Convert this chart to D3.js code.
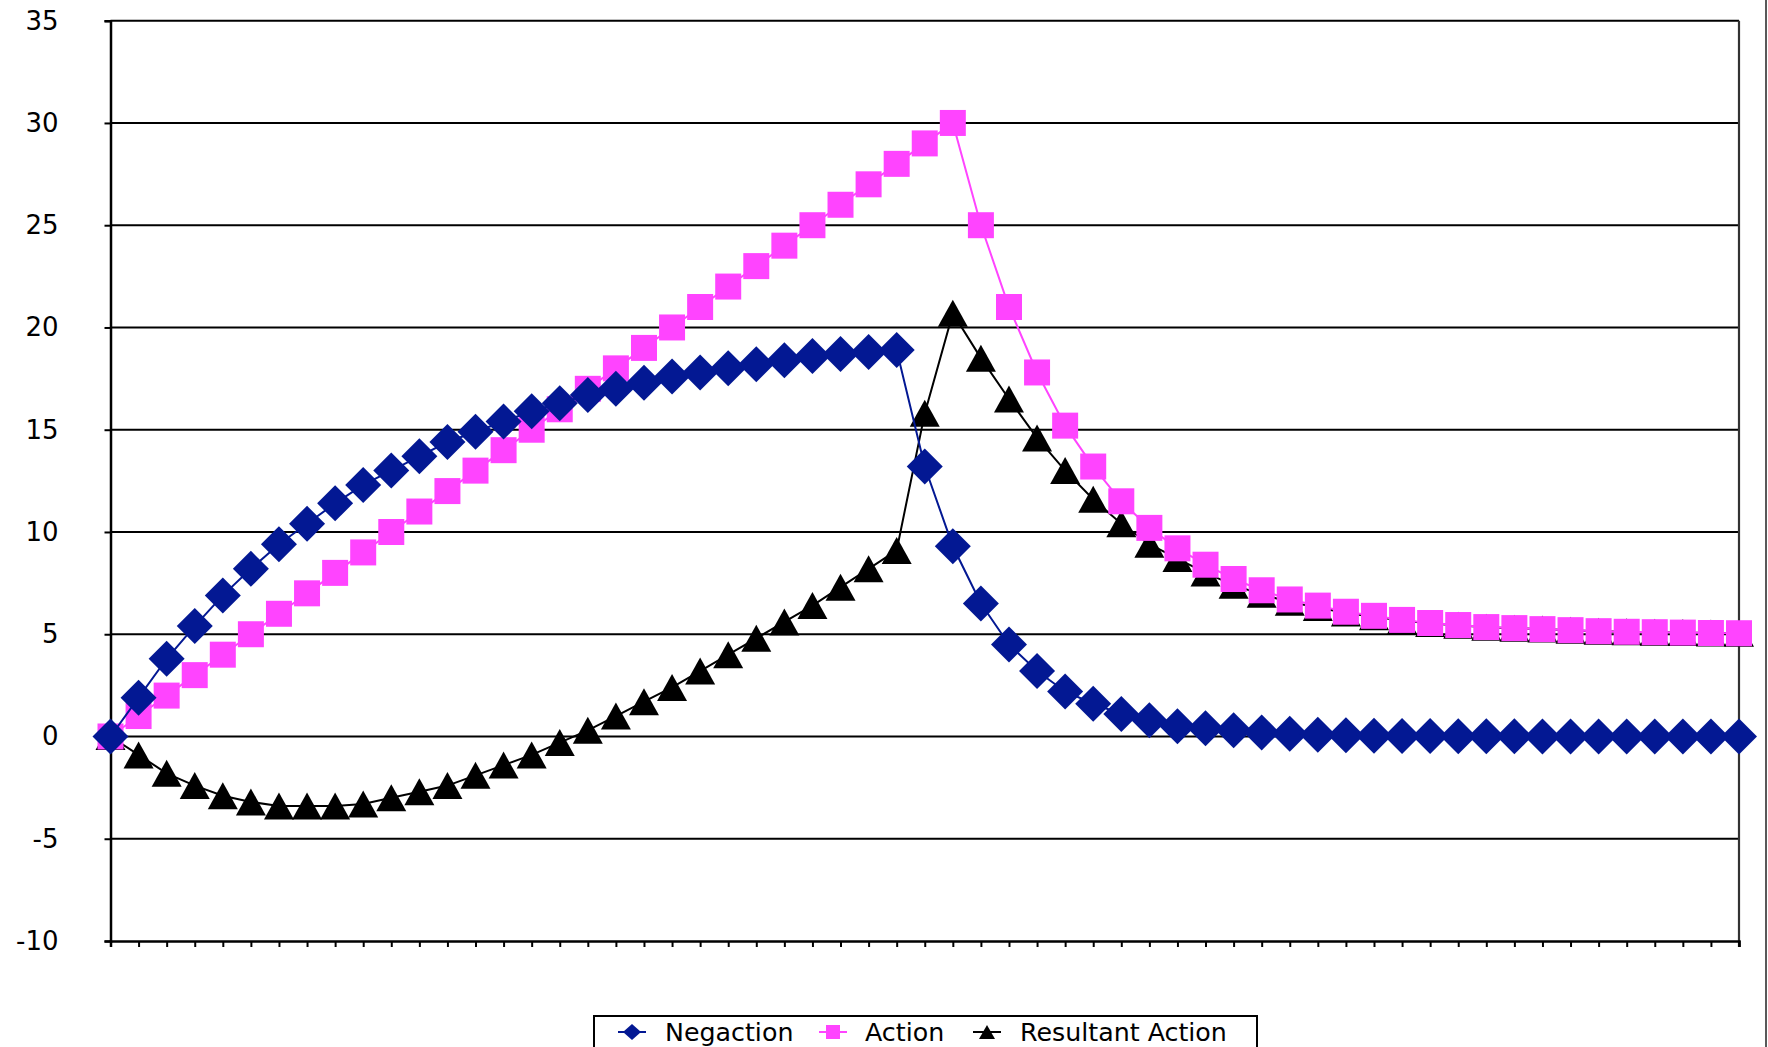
<!DOCTYPE html>
<html>
<head>
<meta charset="utf-8">
<script src="https://cdn.jsdelivr.net/npm/d3@7"></script>
<style>
  html, body { margin: 0; padding: 0; background: #fff; }
  svg { display: block; }
  text { font-family: "DejaVu Sans", Verdana, sans-serif; fill: #000; }
</style>
</head>
<body>
<svg id="chart" width="1768" height="1047"></svg>
<script>
// ---- data ----
const categories = d3.range(1, 60); // 59 unlabeled categories
const yTicks = [-10, -5, 0, 5, 10, 15, 20, 25, 30, 35];
const seriesNames = ["Negaction", "Action", "Resultant Action"];

const negaction = [0, 1.9, 3.8, 5.4, 6.9, 8.2, 9.4, 10.4, 11.4, 12.3,
  13.0, 13.7, 14.4, 14.9, 15.4, 15.9, 16.3, 16.7, 17.0, 17.3,
  17.6, 17.8, 18.0, 18.2, 18.4, 18.6, 18.7, 18.8, 18.9, 13.2,
  9.3, 6.5, 4.5, 3.2, 2.2, 1.6, 1.1, 0.8, 0.5, 0.4,
  0.3, 0.2, 0.13, 0.09, 0.06, 0.04, 0.03, 0.02, 0.015, 0.01,
  0.01, 0, 0, 0, 0, 0, 0, 0, 0];

const action = [0, 1, 2, 3, 4, 5, 6, 7, 8, 9,
  10, 11, 12, 13, 14, 15, 16, 17, 18, 19,
  20, 21, 22, 23, 24, 25, 26, 27, 28, 29,
  30, 25, 21, 17.8, 15.2, 13.2, 11.5, 10.2, 9.2, 8.4,
  7.7, 7.15, 6.7, 6.4, 6.1, 5.9, 5.7, 5.55, 5.45, 5.35,
  5.3, 5.25, 5.2, 5.15, 5.12, 5.1, 5.08, 5.06, 5.05];

const resultant = [0, -0.9, -1.8, -2.4, -2.9, -3.2, -3.4, -3.4, -3.4, -3.3,
  -3.0, -2.7, -2.4, -1.9, -1.4, -0.9, -0.3, 0.3, 1.0, 1.7,
  2.4, 3.2, 4.0, 4.8, 5.6, 6.4, 7.3, 8.2, 9.1, 15.8,
  20.7, 18.5, 16.5, 14.6, 13.0, 11.6, 10.4, 9.4, 8.7, 8.0,
  7.4, 6.95, 6.57, 6.31, 6.04, 5.86, 5.67, 5.53, 5.44, 5.34,
  5.29, 5.25, 5.2, 5.15, 5.12, 5.1, 5.08, 5.06, 5.05];

// ---- layout ----
const svg = d3.select("#chart");
const plotL = 110.5, plotR = 1739, plotT = 20.7, plotB = 941;

const x = d3.scalePoint().domain(categories).range([plotL, plotR]);
const y = d3.scaleLinear().domain([-10, 35]).range([plotB, plotT]);

const colors = { "Negaction": "#031893", "Action": "#ff44ff", "Resultant Action": "#000000" };

// outer chart-area border (right edge)
svg.append("line").attr("x1", 1766).attr("x2", 1766).attr("y1", 0).attr("y2", 1047)
  .attr("stroke", "#222").attr("stroke-width", 1.5);

// gridlines
svg.append("g").selectAll("line").data(yTicks.filter(v => v > -10)).join("line")
  .attr("x1", plotL).attr("x2", plotR)
  .attr("y1", d => y(d)).attr("y2", d => y(d))
  .attr("stroke", "#000").attr("stroke-width", 2);

// right plot border
svg.append("line").attr("x1", plotR).attr("x2", plotR).attr("y1", plotT).attr("y2", plotB + 6)
  .attr("stroke", "#333").attr("stroke-width", 2.2);

// y axis
const yAxis = svg.append("g").attr("transform", `translate(${plotL},0)`)
  .call(d3.axisLeft(y).tickValues(yTicks).tickSize(6).tickPadding(46).tickFormat(d => String(d)));
yAxis.select(".domain").attr("stroke", "#000").attr("stroke-width", 2.5);
yAxis.selectAll(".tick line").attr("stroke", "#000").attr("stroke-width", 2);
yAxis.selectAll(".tick text").style("font-family", "'DejaVu Sans', Verdana, sans-serif")
  .style("font-size", "26px").attr("fill", "#000");

// x axis
const xAxis = svg.append("g").attr("transform", `translate(0,${plotB})`)
  .call(d3.axisBottom(x).tickSize(6).tickFormat(""));
xAxis.select(".domain").attr("stroke", "#000").attr("stroke-width", 2.5);
xAxis.selectAll(".tick line").attr("stroke", "#000").attr("stroke-width", 2);

// markers
const markerPath = {
  "Negaction": "M0,-18L18,0L0,18L-18,0Z",
  "Action": "M-13,-13H13V13H-13Z",
  "Resultant Action": "M0,-13.5L15,13.5L-15,13.5Z"
};
const legendMarker = {
  "Negaction": "M0,-8L9,0L0,8L-9,0Z",
  "Action": "M-7,-7H7V7H-7Z",
  "Resultant Action": "M0,-7L8,7L-8,7Z"
};

const seriesData = [
  { name: "Resultant Action", values: resultant },
  { name: "Action", values: action },
  { name: "Negaction", values: negaction }
];

const line = d3.line().x((d, i) => x(categories[i])).y(d => y(d));

seriesData.forEach(s => {
  const g = svg.append("g");
  g.append("path").datum(s.values).attr("d", line)
    .attr("fill", "none").attr("stroke", colors[s.name]).attr("stroke-width", 2);
  g.selectAll("path.m").data(s.values).join("path").attr("class", "m")
    .attr("d", markerPath[s.name])
    .attr("transform", (d, i) => `translate(${x(categories[i])},${y(d)})`)
    .attr("fill", colors[s.name]);
});

// legend
const lg = svg.append("g");
lg.append("rect").attr("x", 594).attr("y", 1016).attr("width", 663).attr("height", 34)
  .attr("fill", "#fff").attr("stroke", "#000").attr("stroke-width", 2);
const legendPos = [
  { name: "Negaction", mx: 632, tx: 665 },
  { name: "Action", mx: 833, tx: 865 },
  { name: "Resultant Action", mx: 987, tx: 1020 }
];
legendPos.forEach(p => {
  lg.append("line").attr("x1", p.mx - 14).attr("x2", p.mx + 14).attr("y1", 1032).attr("y2", 1032)
    .attr("stroke", colors[p.name]).attr("stroke-width", 2);
  lg.append("path").attr("d", legendMarker[p.name])
    .attr("transform", `translate(${p.mx},1032)`).attr("fill", colors[p.name]);
  lg.append("text").attr("x", p.tx).attr("y", 1040.5).style("font-size", "25.3px").text(p.name);
});
</script>
</body>
</html>
